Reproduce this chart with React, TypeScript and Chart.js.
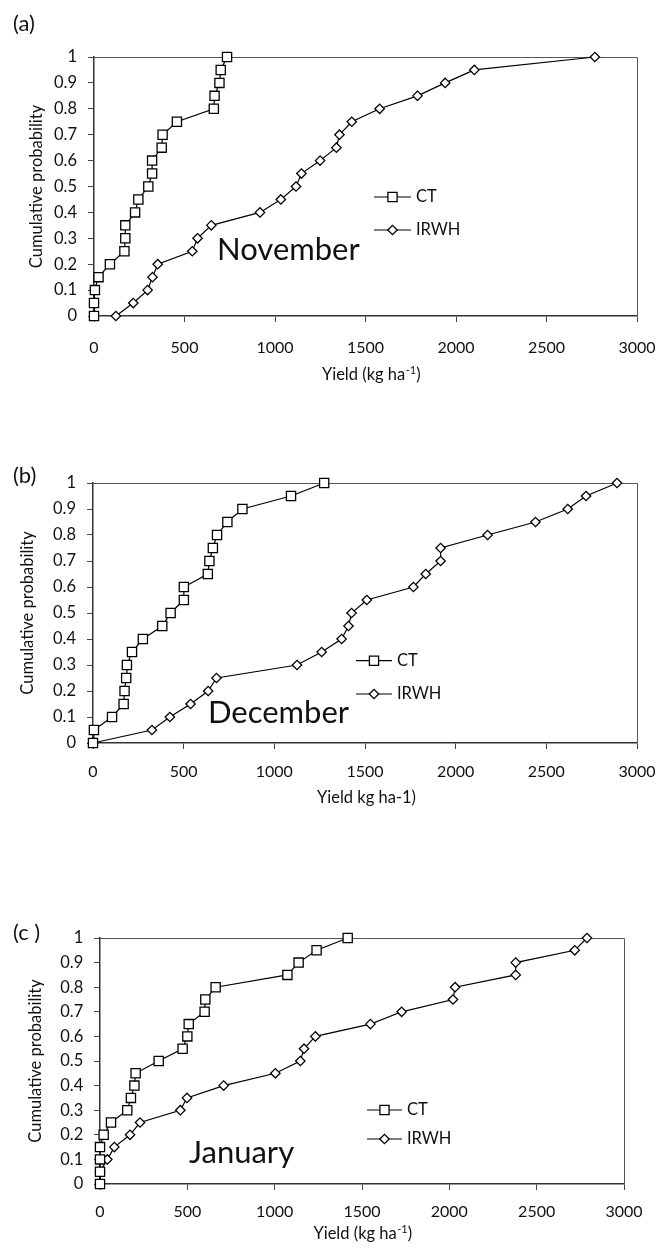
import React, { useEffect, useRef } from 'react';
import { Chart, registerables } from 'chart.js';

Chart.register(...registerables);

// ---------- data ----------
const PROBABILITY = [0, 0.05, 0.1, 0.15, 0.2, 0.25, 0.3, 0.35, 0.4, 0.45, 0.5, 0.55, 0.6, 0.65, 0.7, 0.75, 0.8, 0.85, 0.9, 0.95, 1];

const NOV_CT = [0, 0, 5, 25, 88, 168, 173, 173, 227, 245, 300, 321, 321, 374, 379, 458, 662, 666, 693, 700, 735];
const NOV_IRWH = [121, 217, 296, 323, 352, 543, 572, 648, 917, 1032, 1116, 1146, 1249, 1339, 1356, 1424, 1578, 1787, 1940, 2101, 2767];

const DEC_CT = [0, 5, 105, 169, 174, 183, 187, 215, 275, 382, 428, 501, 501, 633, 642, 661, 684, 741, 824, 1092, 1275];
const DEC_IRWH = [0, 325, 424, 538, 635, 681, 1125, 1261, 1371, 1409, 1426, 1510, 1767, 1835, 1917, 1917, 2176, 2440, 2618, 2719, 2890];

const JAN_CT = [0, 0, 0, 0, 21, 63, 156, 177, 197, 204, 336, 473, 500, 508, 599, 603, 662, 1073, 1137, 1240, 1418];
const JAN_IRWH = [0, 0, 42, 82, 172, 229, 460, 498, 708, 1004, 1147, 1168, 1233, 1548, 1727, 2021, 2033, 2380, 2380, 2718, 2788];

const X_TICKS = [0, 500, 1000, 1500, 2000, 2500, 3000];
const Y_TICKS = [0, 0.1, 0.2, 0.3, 0.4, 0.5, 0.6, 0.7, 0.8, 0.9, 1];

const SERIES_NAMES = ['CT', 'IRWH'];
const PANEL_LABELS = ['(a)', '(b)', '(c )'];
const MONTHS = ['November', 'December', 'January'];
const Y_TITLE = 'Cumulative probability';
// [main text, superscript, tail]
const X_TITLES: [string, string, string][] = [
  ['Yield (kg ha', '-1', ')'],
  ['Yield kg ha-1)', '', ''],
  ['Yield (kg ha', '-1', ')'],
];
const PANEL_SERIES = [
  [NOV_CT, NOV_IRWH],
  [DEC_CT, DEC_IRWH],
  [JAN_CT, JAN_IRWH],
];

// ---------- layout ----------
const W = 672;
const FONT = 'Lato, "Open Sans", sans-serif';
const INK = '#111';
const Y_TITLE_SIZE = 16.5;
const X_TITLE_SIZE = 16.5;

type Spec = {
  top: number;
  height: number;
  area: { left: number; top: number; right: number; bottom: number };
  xTickPad: number;
  yTickPad: number;
  yTitleCenter: number;
  labelPos: [number, number];
  monthPos: [number, number];
  legend: { x1: number; x2: number; y1: number; y2: number; textX: number };
  xTitle: { cx: number; baseline: number };
};

const SPECS: Spec[] = [
  {
    top: 0, height: 420,
    area: { left: 94, top: 57, right: 648, bottom: 316 },
    xTickPad: 16.4, yTickPad: 11, yTitleCenter: 37,
    labelPos: [13, 24], monthPos: [217, 259.5],
    legend: { x1: 374, x2: 411, y1: 197, y2: 230, textX: 416 },
    xTitle: { cx: 371, baseline: 380 },
  },
  {
    top: 420, height: 420,
    area: { left: 93, top: 63, right: 637, bottom: 323 },
    xTickPad: 12.9, yTickPad: 11, yTitleCenter: 27.5,
    labelPos: [13, 56], monthPos: [208, 303.3],
    legend: { x1: 356, x2: 392, y1: 240.7, y2: 274, textX: 397 },
    xTitle: { cx: 366.5, baseline: 382.5 },
  },
  {
    top: 840, height: 412,
    area: { left: 100, top: 98, right: 624, bottom: 344 },
    xTickPad: 12.1, yTickPad: 10.7, yTitleCenter: 36,
    labelPos: [13, 92.5], monthPos: [189, 322.7],
    legend: { x1: 367, x2: 402, y1: 270, y2: 299, textX: 407 },
    xTitle: { cx: 362.5, baseline: 399 },
  },
];

const SQUARE_R = 6.5;
const DIAMOND_R = 4.7;

function drawMarker(ctx: CanvasRenderingContext2D, kind: number, x: number, y: number) {
  ctx.save();
  ctx.beginPath();
  if (kind === 0) {
    const s = Math.SQRT1_2 * SQUARE_R;
    ctx.rect(x - s, y - s, 2 * s, 2 * s);
  } else {
    ctx.moveTo(x - DIAMOND_R, y);
    ctx.lineTo(x, y - DIAMOND_R);
    ctx.lineTo(x + DIAMOND_R, y);
    ctx.lineTo(x, y + DIAMOND_R);
    ctx.closePath();
  }
  ctx.fillStyle = '#fff';
  ctx.fill();
  ctx.lineWidth = 1.3;
  ctx.strokeStyle = '#000';
  ctx.stroke();
  ctx.restore();
}

function Panel({ index }: { index: number }) {
  const ref = useRef<HTMLCanvasElement | null>(null);
  const spec = SPECS[index];

  useEffect(() => {
    const canvas = ref.current;
    if (!canvas) return;
    const H = spec.height;
    const [ct, irwh] = PANEL_SERIES[index];

    const annotations = {
      id: 'panelAnnotations' + index,
      beforeDatasetsDraw(chart: any) {
        const { ctx, chartArea } = chart;
        ctx.save();
        ctx.strokeStyle = '#555';
        ctx.lineWidth = 1;
        ctx.beginPath();
        const t = Math.round(chartArea.top) + 0.5;
        const r = Math.round(chartArea.right) + 0.5;
        ctx.moveTo(chartArea.left, t);
        ctx.lineTo(r, t);
        ctx.lineTo(r, chartArea.bottom);
        ctx.stroke();
        ctx.restore();
      },
      afterDraw(chart: any) {
        const ctx: CanvasRenderingContext2D = chart.ctx;
        ctx.save();
        ctx.fillStyle = INK;

        // panel label
        ctx.font = `22px ${FONT}`;
        ctx.textAlign = 'left';
        ctx.textBaseline = 'middle';
        ctx.fillText(PANEL_LABELS[index], spec.labelPos[0], spec.labelPos[1]);

        // month
        ctx.font = `31px ${FONT}`;
        ctx.textBaseline = 'alphabetic';
        ctx.fillText(MONTHS[index], spec.monthPos[0], spec.monthPos[1]);

        // legend
        const lg = spec.legend;
        [lg.y1, lg.y2].forEach((y, k) => {
          ctx.save();
          ctx.strokeStyle = '#000';
          ctx.lineWidth = 1.2;
          ctx.beginPath();
          ctx.moveTo(lg.x1, y);
          ctx.lineTo(lg.x2, y);
          ctx.stroke();
          ctx.restore();
          drawMarker(ctx, k, (lg.x1 + lg.x2) / 2, y);
          ctx.fillStyle = INK;
          ctx.font = `16.5px ${FONT}`;
          ctx.textBaseline = 'middle';
          ctx.textAlign = 'left';
          ctx.fillText(SERIES_NAMES[k], lg.textX, y);
        });

        // x-axis title with superscript
        const [main, sup, tail] = X_TITLES[index];
        ctx.textBaseline = 'alphabetic';
        ctx.font = `${X_TITLE_SIZE}px ${FONT}`;
        const w1 = ctx.measureText(main).width;
        const w3 = ctx.measureText(tail).width;
        ctx.font = `11px ${FONT}`;
        const w2 = ctx.measureText(sup).width;
        let x = spec.xTitle.cx - (w1 + w2 + w3) / 2;
        const b = spec.xTitle.baseline;
        ctx.font = `${X_TITLE_SIZE}px ${FONT}`;
        ctx.fillText(main, x, b);
        x += w1;
        if (sup) {
          ctx.font = `11px ${FONT}`;
          ctx.fillText(sup, x + 0.5, b - 6.5);
          x += w2 + 0.5;
        }
        ctx.font = `${X_TITLE_SIZE}px ${FONT}`;
        ctx.fillText(tail, x, b);
        ctx.restore();
      },
    };

    const commonGrid = { drawOnChartArea: false, drawTicks: true, tickLength: 6, color: '#444', lineWidth: 1 };
    const commonBorder = { display: true, color: '#333', width: 1.5 };

    const chart = new Chart(canvas, {
      type: 'line',
      data: {
        datasets: [
          {
            label: SERIES_NAMES[0],
            data: ct.map((v, i) => ({ x: v, y: PROBABILITY[i] })),
            borderColor: '#000',
            borderWidth: 1.2,
            pointStyle: 'rect',
            pointRadius: SQUARE_R,
            pointBorderWidth: 1.3,
            pointBackgroundColor: '#fff',
            pointBorderColor: '#000',
            tension: 0,
            clip: false,
          },
          {
            label: SERIES_NAMES[1],
            data: irwh.map((v, i) => ({ x: v, y: PROBABILITY[i] })),
            borderColor: '#000',
            borderWidth: 1.2,
            pointStyle: 'rectRot',
            pointRadius: DIAMOND_R,
            pointBorderWidth: 1.3,
            pointBackgroundColor: '#fff',
            pointBorderColor: '#000',
            tension: 0,
            clip: false,
          },
        ],
      } as any,
      options: {
        animation: false,
        responsive: false,
        events: [],
        layout: { padding: { left: 0, top: spec.area.top, right: W - spec.area.right, bottom: 0 } },
        plugins: { legend: { display: false }, tooltip: { enabled: false } },
        scales: {
          x: {
            type: 'linear',
            min: 0,
            max: 3000,
            afterBuildTicks: (s: any) => {
              s.ticks = X_TICKS.map((v) => ({ value: v }));
            },
            afterFit: (s: any) => {
              s.height = H - spec.area.bottom;
            },
            ticks: {
              callback: (v: any) => String(v),
              font: { family: FONT, size: 16 },
              color: INK,
              padding: spec.xTickPad,
              maxRotation: 0,
              autoSkip: false,
            },
            grid: commonGrid,
            border: commonBorder,
          },
          y: {
            type: 'linear',
            min: 0,
            max: 1,
            afterBuildTicks: (s: any) => {
              s.ticks = Y_TICKS.map((v) => ({ value: v }));
            },
            afterFit: (s: any) => {
              s.width = spec.area.left;
            },
            ticks: {
              callback: (v: any) => String(v),
              font: { family: FONT, size: 16.5 },
              color: INK,
              padding: spec.yTickPad,
              autoSkip: false,
            },
            grid: commonGrid,
            border: commonBorder,
            title: {
              display: true,
              text: Y_TITLE,
              color: INK,
              font: { family: FONT, size: Y_TITLE_SIZE, lineHeight: 1.2 },
              padding: { top: spec.yTitleCenter - (Y_TITLE_SIZE * 1.2) / 2, bottom: 0 },
            },
          },
        },
      } as any,
      plugins: [annotations],
    });

    return () => chart.destroy();
  }, [index]);

  return (
    <canvas
      ref={ref}
      width={W}
      height={spec.height}
      style={{ position: 'absolute', left: 0, top: spec.top, width: W, height: spec.height, display: 'block' }}
    />
  );
}

export default function App() {
  return (
    <div style={{ position: 'absolute', left: 0, top: 0, width: W, height: 1252, background: '#fff', overflow: 'hidden' }}>
      <Panel index={0} />
      <Panel index={1} />
      <Panel index={2} />
    </div>
  );
}
